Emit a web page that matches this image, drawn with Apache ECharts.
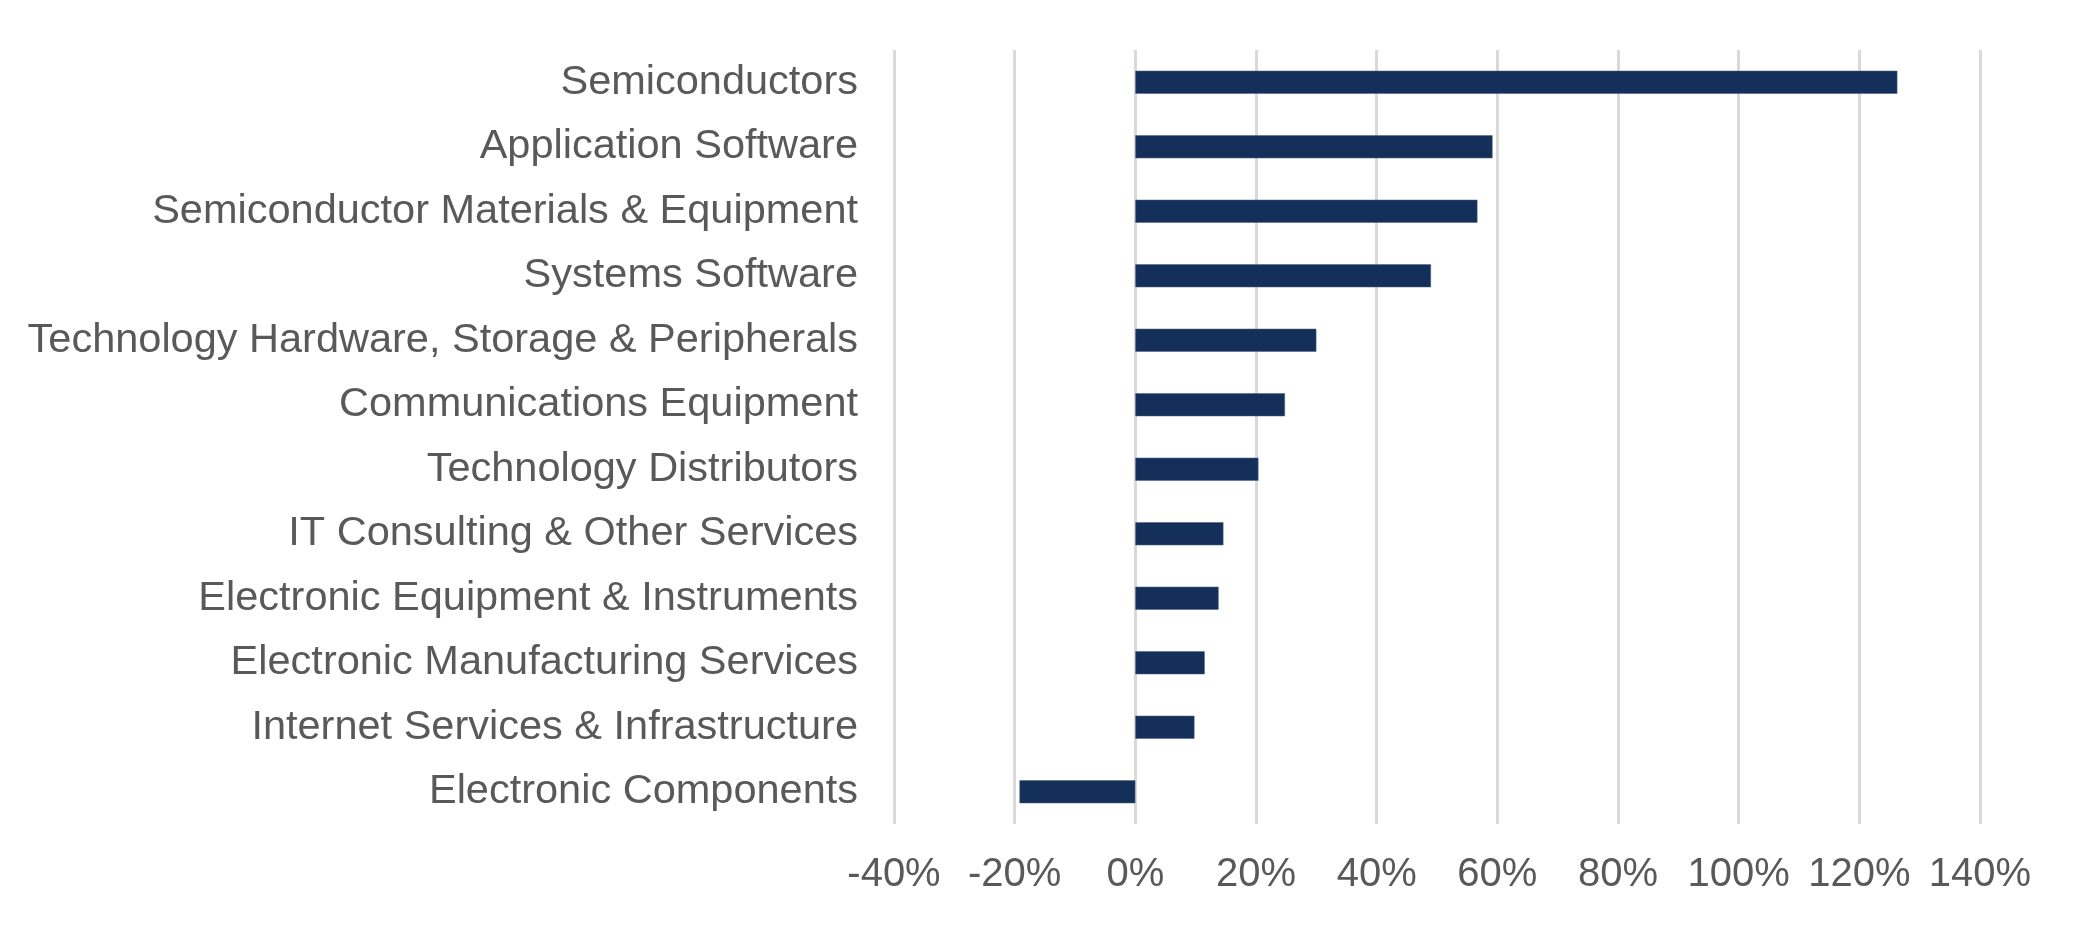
<!DOCTYPE html>
<html>
<head>
<meta charset="utf-8">
<script src="https://cdn.jsdelivr.net/npm/echarts@6/dist/echarts.min.js"></script>
<style>
html,body{margin:0;padding:0;background:#fff;}
#chart{width:2083px;height:925px;}
</style>
</head>
<body>
<div id="chart"></div>
<script>
const categories = [
  "Semiconductors",
  "Application Software",
  "Semiconductor Materials & Equipment",
  "Systems Software",
  "Technology Hardware, Storage & Peripherals",
  "Communications Equipment",
  "Technology Distributors",
  "IT Consulting & Other Services",
  "Electronic Equipment & Instruments",
  "Electronic Manufacturing Services",
  "Internet Services & Infrastructure",
  "Electronic Components"
];
const returnsPct = [126.3, 59.2, 56.7, 49.0, 30.0, 24.8, 20.4, 14.6, 13.8, 11.5, 9.8, -19.2];
const axisMin = -40, axisMax = 140, axisStep = 20;

const chart = echarts.init(document.getElementById('chart'));
chart.setOption({
  animation: false,
  grid: { left: 894, right: 103, top: 50, bottom: 101, containLabel: false },
  xAxis: {
    type: 'value',
    min: axisMin, max: axisMax, interval: axisStep,
    axisLine: { show: false },
    axisTick: { show: false },
    splitLine: { show: true, lineStyle: { color: '#D9D9D9', width: 3 } },
    axisLabel: {
      formatter: '{value}%',
      color: '#595959',
      fontFamily: 'Liberation Sans, Arial, sans-serif',
      fontSize: 40,
      margin: 31
    }
  },
  yAxis: {
    type: 'category',
    data: categories,
    inverse: true,
    axisLine: { show: false },
    axisTick: { show: false },
    splitLine: { show: false },
    axisLabel: {
      color: '#595959',
      fontFamily: 'Liberation Sans, Arial, sans-serif',
      fontSize: 41.5,
      margin: 36,
      padding: [6, 0, 0, 0]
    }
  },
  series: [{
    type: 'bar',
    data: returnsPct,
    barWidth: 23,
    itemStyle: { color: '#14305A', borderColor: '#4A5F7F', borderWidth: 0.5 }
  }]
});
</script>
</body>
</html>
